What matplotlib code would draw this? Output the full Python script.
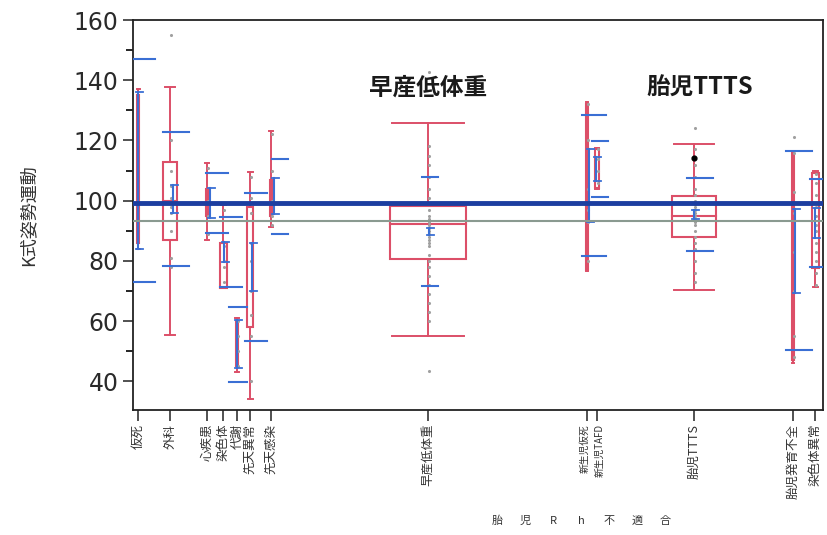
import numpy as np
import matplotlib.pyplot as plt
from matplotlib.patches import Rectangle
from matplotlib.transforms import ScaledTranslation

plt.rcParams['font.family'] = ['DejaVu Sans', 'Noto Sans CJK JP']
jp = ['Noto Sans CJK JP', 'DejaVu Sans']

# group labels and x positions (axis runs 133..823)
labels = ['仮死', '外科', '心疾患', '染色体', '代謝', '先天異常', '先天感染',
          '早産低体重', '新生児仮死', '新生児TAFD', '胎児TTTS', '胎児発育不全', '染色体異常']
xpos = [138, 170, 207, 223, 237, 250, 271, 428, 587, 597, 694, 793, 815]

# red box plot values
w_lo = [84, 55.3, 87, 71, 43, 34, 91.4, 55.2, 76.5, 104, 70.5, 46, 71.5]
q1 = [86, 87, 95, 71.1, 45, 58, 95, 80.8, 77, 104.3, 88.1, 47, 77.8]
med = [110, 100, 99, 80, 52, 80, 100, 92.1, 105, 110, 95, 83, 93]
q3 = [135, 113, 104, 86, 60, 98, 107, 98.3, 132, 117, 101.7, 116, 109.3]
w_hi = [137, 137.8, 112.6, 98.7, 61, 109.6, 123, 125.8, 132.8, 117.5, 118.9, 116.3, 110]

# blue mean / std dev / std err values
means = [110, 100.5, 99.3, 83, 52.3, 78, 101.5, 89.8, 105, 110.6, 95.4, 83.4, 92.7]
sds = [37, 22.3, 10, 11.7, 12.4, 24.5, 12.5, 18.1, 23.5, 9.3, 12, 33, 14.6]
ses = [26, 4.7, 5, 3.2, 8, 8, 6, 1.2, 12, 4, 1.5, 14, 5]

# raw points (gray)
points = [
    [],
    [155, 120, 110, 105, 101, 98, 96, 90, 81, 78],
    [111, 100, 95, 89],
    [97, 85, 80, 78, 73],
    [60, 55, 50, 45],
    [108, 101, 96, 86, 80, 70, 62, 55, 40],
    [122, 110, 100, 95, 92],
    [142.8, 118, 115, 112, 108, 104, 101, 99, 97, 95, 94, 93, 92, 91, 90, 89, 88, 87, 86, 85,
     82, 80, 78, 75, 72, 69, 66, 63, 60, 43.3],
    [132, 120, 104, 97, 93, 80],
    [117, 114, 110, 106],
    [124.2, 117, 112, 108, 104, 102, 100, 99, 98, 97, 96, 95, 94, 93, 92, 90, 88, 86, 84, 80, 76, 73],
    [121, 116, 103, 96, 83, 70, 55, 48],
    [109, 106, 102, 98, 95, 92, 90, 86, 83, 80, 76, 72],
]
black_pt = (694, 114.3)

grand_mean = 99.2
grand_median = 93.3

x_title = '胎児Rh不適合'

# layout per group: box half width, cap half width, blue x, blue tick half width
box_hw = [1.2, 7, 1, 3.5, 1, 3, 1, 38, 0.8, 2, 22, 0.8, 3.5]
cap_hw = [1.5, 5, 2, 2.5, 2, 2.5, 2, 36, 1, 2, 20, 1, 2.5]
blue_x = [138, 173, 210, 224, 237, 252, 274, 429, 589, 596, 694, 795, 815]
tick_c = [144, 176, 217, 231, 238, 256, 280, 430, 594, 600, 700, 799, 818]
tick_hw = [11, 13, 11, 11, 9, 11, 8, 8, 12, 8, 13, 13, 8]

red = '#dc4f68'
blue = '#3a6fd4'

fig = plt.figure(figsize=(8.27, 5.35), dpi=100)
ax = fig.add_axes([133 / 827, 1 - 410 / 535, 690 / 827, 390 / 535])

for i in range(len(labels)):
    x = xpos[i]
    # whiskers and caps
    ax.plot([x, x], [w_lo[i], q1[i]], color=red, lw=1.4, zorder=2)
    ax.plot([x, x], [q3[i], w_hi[i]], color=red, lw=1.4, zorder=2)
    ax.plot([x - cap_hw[i], x + cap_hw[i]], [w_hi[i], w_hi[i]], color=red, lw=1.4, zorder=2)
    ax.plot([x - cap_hw[i], x + cap_hw[i]], [w_lo[i], w_lo[i]], color=red, lw=1.4, zorder=2)
    ax.add_patch(Rectangle((x - box_hw[i], q1[i]), 2 * box_hw[i], q3[i] - q1[i],
                           fill=False, ec=red, lw=1.5, zorder=2))
    if box_hw[i] > 5:
        ax.plot([x - box_hw[i], x + box_hw[i]], [med[i], med[i]], color=red, lw=1.5, zorder=2)
    # gray points
    ax.scatter([x + 1] * len(points[i]), points[i], s=5, color='#a0a0a0', zorder=3, lw=0)
    # blue std err bar and std dev lines
    bx = blue_x[i]
    ax.plot([bx, bx], [means[i] - ses[i], means[i] + ses[i]], color=blue, lw=1.5, zorder=4)
    for y in (means[i] - ses[i], means[i] + ses[i]):
        ax.plot([bx - 2, bx + 5], [y, y], color=blue, lw=1.3, zorder=4)
    for y in (means[i] - sds[i], means[i] + sds[i]):
        ax.plot([tick_c[i] - tick_hw[i], tick_c[i] + tick_hw[i]], [y, y], color=blue, lw=1.5, zorder=4)

ax.scatter([black_pt[0]], [black_pt[1]], s=12, color='black', zorder=5)

ax.axhline(grand_median, color='#8a9a90', lw=1.5, zorder=5)
ax.axhline(grand_mean, color='#1c3ea0', lw=3.5, zorder=6)

ax.text(428, 137.5, '早産低体重', family=jp, fontsize=17, fontweight='bold',
        ha='center', va='center', color='#1a1a1a')
ax.text(700, 137.5, '胎児TTTS', family=jp, fontsize=17, fontweight='bold',
        ha='center', va='center', color='#1a1a1a')

ax.set_xlim(133, 823)
ax.set_ylim(30.5, 160)
ax.set_yticks(np.arange(40, 161, 20))
ax.set_yticks(np.arange(50, 160, 20), minor=True)
ax.tick_params(axis='y', labelsize=17, length=7, width=1.2, colors='#333333', labelcolor='#2a2a2a')
ax.tick_params(axis='y', which='minor', length=5, width=1.2)
ax.set_xticks(xpos)
ax.set_xticklabels(labels, rotation=90, fontsize=9, family=jp, color='#333333')
ax.tick_params(axis='x', length=8, width=1.2, colors='#333333', pad=2)

# the two close labels near 590: smaller and pushed apart a little
tl = ax.get_xticklabels()
for idx, dx in ((8, -2.5), (9, 2.5)):
    tl[idx].set_fontsize(7)
    tl[idx].set_transform(tl[idx].get_transform() + ScaledTranslation(dx / 100, 0, fig.dpi_scale_trans))

for s in ax.spines.values():
    s.set_linewidth(1.3)
    s.set_color('#222222')

ax.set_ylabel('K式姿勢運動', family=jp, fontsize=13, color='#333333', labelpad=26)

# x axis title, characters spread out as in the scan
for k, ch in enumerate(x_title):
    fig.text((497 + 28 * k) / 827, 1 - 521 / 535, ch, family=jp, fontsize=8,
             ha='center', va='center', color='#333333')

fig.savefig('out.png', dpi=100)
